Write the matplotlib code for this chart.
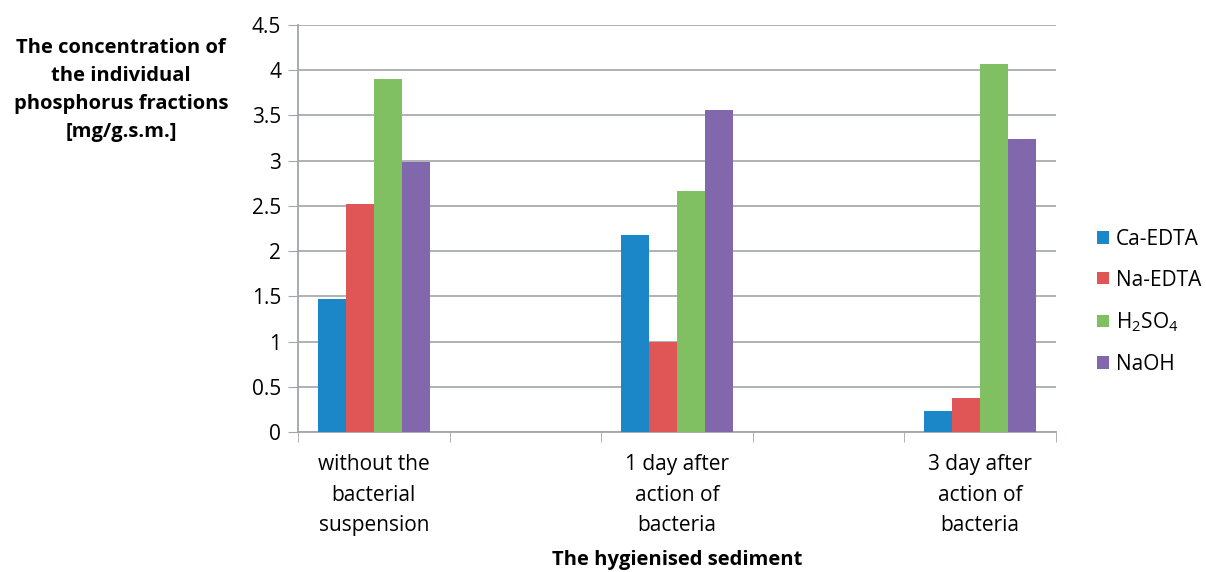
import matplotlib
matplotlib.use('Agg')
import matplotlib.pyplot as plt
import numpy as np

# Data
groups = ['without the\nbacterial\nsuspension', '', '1 day after\naction of\nbacteria', '', '3 day after\naction of\nbacteria']
series = ['Ca-EDTA', 'Na-EDTA', 'H$_2$SO$_4$', 'NaOH']
ca_edta = [1.47, 0, 2.18, 0, 0.23]
na_edta = [2.52, 0, 0.99, 0, 0.38]
h2so4 = [3.90, 0, 2.67, 0, 4.07]
naoh = [2.98, 0, 3.56, 0, 3.24]
colors = ['#1B86C8', '#E05656', '#80C062', '#8168AD']

plt.rcParams['font.family'] = ['Open Sans', 'DejaVu Sans']
plt.rcParams['mathtext.fontset'] = 'custom'
plt.rcParams['mathtext.rm'] = 'Open Sans'
plt.rcParams['mathtext.it'] = 'Open Sans'

fig = plt.figure(figsize=(12.06, 5.72), dpi=100)
ax = fig.add_axes([298 / 1206, 1 - 432 / 572, 758 / 1206, 407 / 572])

x = np.arange(len(groups))
w = 0.185
data = [ca_edta, na_edta, h2so4, naoh]
for i, (vals, name, c) in enumerate(zip(data, series, colors)):
    ax.bar(x + (i - 1.5) * w, vals, width=w, color=c, label=name, zorder=3)

ax.set_xlim(-0.5, len(groups) - 0.5)
ax.set_ylim(0, 4.5)
ax.set_yticks(np.arange(0, 4.51, 0.5))
ax.set_yticklabels(['0', '0.5', '1', '1.5', '2', '2.5', '3', '3.5', '4', '4.5'])
ax.set_xticks(x)
ax.set_xticklabels(groups, fontsize=15, linespacing=1.6)
ax.set_xticks(np.arange(-0.5, len(groups), 1), minor=True)
ax.tick_params(axis='x', which='major', length=0, pad=16)
ax.tick_params(axis='x', which='minor', length=7, direction='out', color='#A0A6AA')
ax.tick_params(axis='y', length=7, direction='out', color='#A0A6AA', labelsize=15, pad=5)

ax.yaxis.grid(True, color='#A8ADB0', linewidth=1.3, zorder=0)
for s in ['top', 'right']:
    ax.spines[s].set_visible(False)
for s in ['left', 'bottom']:
    ax.spines[s].set_color('#A0A6AA')
    ax.spines[s].set_linewidth(1.3)

fig.text(121 / 1206, 1 - 90 / 572,
         'The concentration of\nthe individual\nphosphorus fractions\n[mg/g.s.m.]',
         ha='center', va='center', fontsize=14.5, fontweight='bold', linespacing=1.55)
fig.text(677 / 1206, 1 - 560 / 572, 'The hygienised sediment',
         ha='center', va='center', fontsize=14.5, fontweight='bold')

ax.legend(loc='center left', bbox_to_anchor=(1.03, 0.32), frameon=False,
          fontsize=15, handlelength=0.55, handleheight=0.55, handletextpad=0.35,
          labelspacing=0.95)

plt.savefig('out.png', dpi=100)
